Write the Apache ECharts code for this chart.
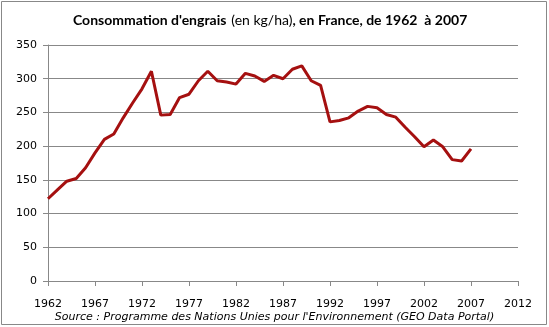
<!DOCTYPE html>
<html>
<head>
<meta charset="utf-8">
<script src="https://cdn.jsdelivr.net/npm/echarts@6/dist/echarts.min.js"></script>
<style>
html,body{margin:0;padding:0;background:#fff;}
#chart{width:549px;height:327px;}
</style>
</head>
<body>
<div id="chart"></div>
<script>
var years = [];
for (var y = 1962; y <= 2012; y++) years.push(String(y));
var consumption = [122, 135, 148, 152, 168, 190, 210, 218, 242, 264, 285, 311, 246, 247, 272, 277, 297, 311, 297, 295, 292, 308, 304, 296, 305, 300, 314, 319, 297, 290, 236, 238, 242, 252, 259, 257, 247, 243, 228, 214, 199, 209, 199, 180, 178, 196];
var yTicks = [0, 50, 100, 150, 200, 250, 300, 350];

var chart = echarts.init(document.getElementById('chart'));
chart.setOption({
  animation: false,
  backgroundColor: '#fff',
  title: {
    text: '{b|Consommation d\'engrais} {n|(en kg/ha)}{b|, en France, de 1962  à 2007}',
    left: 68,
    top: 6,
    textStyle: {
      rich: {
        b: {fontFamily: 'Lato', fontWeight: 'bold', fontSize: 14, color: '#000'},
        n: {fontFamily: 'Lato', fontWeight: 'normal', fontSize: 14, color: '#000'}
      }
    }
  },
  graphic: [
    {type: 'rect', shape: {x: 1.5, y: 1.5, width: 545, height: 323}, style: {fill: 'none', stroke: '#888', lineWidth: 1}, silent: true},
    {type: 'text', left: 'center', top: 312, style: {text: 'Source : Programme des Nations Unies pour l\'Environnement (GEO Data Portal)', font: 'italic 11px "DejaVu Sans"', fill: '#000'}}
  ],
  grid: {left: 48, right: 31, top: 45, bottom: 46},
  xAxis: {
    type: 'category',
    data: years,
    boundaryGap: false,
    axisLine: {lineStyle: {color: '#888'}},
    axisTick: {interval: 4, length: 5, lineStyle: {color: '#888'}},
    axisLabel: {interval: 4, color: '#000', fontFamily: 'DejaVu Sans', fontSize: 11, margin: 18},
    splitLine: {show: false}
  },
  yAxis: {
    type: 'value',
    min: yTicks[0],
    max: yTicks[yTicks.length - 1],
    interval: 50,
    axisLine: {show: true, lineStyle: {color: '#888'}},
    axisTick: {show: true, length: 5, lineStyle: {color: '#888'}},
    axisLabel: {color: '#000', fontFamily: 'DejaVu Sans', fontSize: 11, margin: 11},
    splitLine: {lineStyle: {color: '#888', width: 1}}
  },
  series: [{
    type: 'line',
    data: consumption,
    symbol: 'none',
    lineStyle: {color: '#A51010', width: 3},
    itemStyle: {color: '#A51010'}
  }]
});
</script>
</body>
</html>
